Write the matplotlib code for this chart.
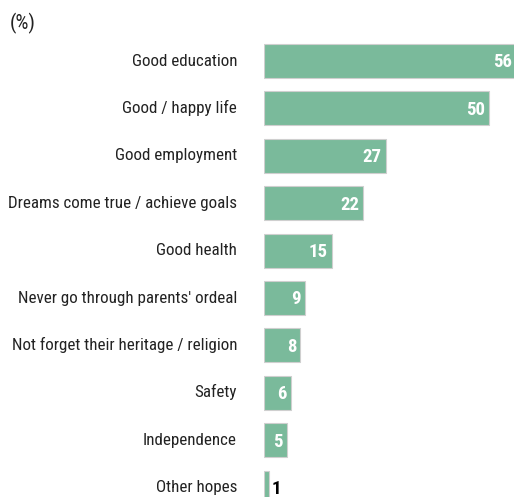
import matplotlib
matplotlib.use("Agg")
import matplotlib.pyplot as plt
from matplotlib import font_manager
from matplotlib.font_manager import FontProperties
from matplotlib.transforms import offset_copy

categories = [
    "Good education",
    "Good / happy life",
    "Good employment",
    "Dreams come true / achieve goals",
    "Good health",
    "Never go through parents' ordeal",
    "Not forget their heritage / religion",
    "Safety",
    "Independence",
    "Other hopes",
]
values = [56, 50, 27, 22, 15, 9, 8, 6, 5, 1]


def pick_narrow(bold):
    """Return the path of a narrow/condensed sans face, or None."""
    cands = []
    for f in font_manager.fontManager.ttflist:
        is_bold = (f.weight in ("bold", 700, "700")) or (isinstance(f.weight, int) and f.weight >= 600)
        if is_bold != bold:
            continue
        if f.style != "normal":
            continue
        nm = f.name.lower()
        narrow = ("narrow" in nm or "condensed" in nm or
                  str(f.stretch) in ("condensed", "semi-condensed", "extra-condensed") or
                  (isinstance(f.stretch, int) and f.stretch < 500) or
                  "condensed" in f.fname.lower() or "narrow" in f.fname.lower())
        if not narrow:
            continue
        for i, key in enumerate(["roboto", "opensans", "open sans", "liberation", "noto", "dejavu"]):
            if key in nm or key in f.fname.lower():
                score = i
                break
        else:
            score = 9
        cands.append((score, f.fname))
    cands.sort()
    return cands[0][1] if cands else None


reg_path = pick_narrow(False)
bold_path = pick_narrow(True)


def fp(size, bold=False):
    path = bold_path if bold else reg_path
    if path:
        return FontProperties(fname=path, size=size)
    return FontProperties(family="DejaVu Sans", size=size,
                          weight="bold" if bold else "normal")


W, H = 514, 497
fig = plt.figure(figsize=(W / 100, H / 100), dpi=100)
left_px = 264
ax = fig.add_axes([left_px / W, 0, 1 - left_px / W, 1])

px_per_unit = 4.5
ax.set_xlim(0, (W - left_px) / px_per_unit)
row0, step = 61, 47.4
ax.set_ylim((H - row0) / step, -row0 / step)
ax.axis("off")

renderer = fig.canvas.get_renderer()


def fit_size(text, target_px, base=12):
    probe = fig.text(0, 0, text, fontproperties=fp(base))
    w = probe.get_window_extent(renderer).width
    probe.remove()
    return base * target_px / w


# size the category labels so the longest one spans the label column
label_size = min(14.0, fit_size("Dreams come true / achieve goals", 228))
pct_size = fit_size("(%)", 26)

bar_color = "#7aba9b"
ys = list(range(len(categories)))
ax.barh(ys, values, height=34 / step, color=bar_color, edgecolor="#cfcfcf", linewidth=0.8)

lab_tr = offset_copy(ax.transData, fig=fig, x=-4, y=-6.5, units="dots")
out_tr = offset_copy(ax.transData, fig=fig, x=3, y=-6.0, units="dots")
for y, v, name in zip(ys, values, categories):
    fig.text(237 / W, 1 - (row0 + step * y + 4.5) / H, name, ha="right", va="baseline",
             fontproperties=fp(label_size), color="#222222")
    if v >= 3:
        ax.text(v, y, str(v), transform=lab_tr, ha="right", va="baseline",
                fontproperties=fp(13.5, True), color="white", clip_on=False)
    else:
        ax.text(v, y, str(v), transform=out_tr, ha="left", va="baseline",
                fontproperties=fp(13.5, True), color="black")

fig.text(10 / W, 1 - 29 / H, "(%)", ha="left", va="baseline",
         fontproperties=fp(pct_size), color="#222222")

fig.savefig("out.png", dpi=100)
